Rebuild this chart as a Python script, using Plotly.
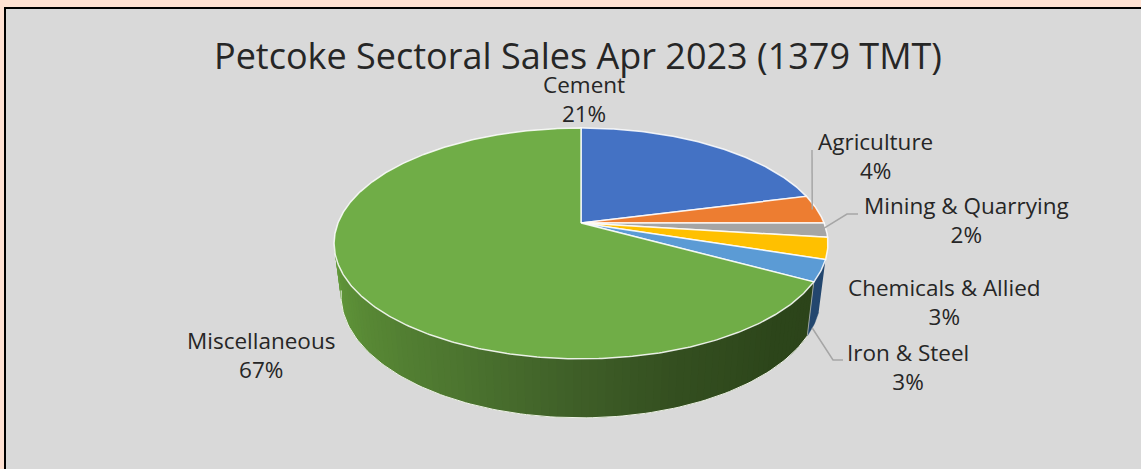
import numpy as np
import plotly.graph_objects as go

# Sector shares of petcoke sales, in percent
sectors = ["Cement", "Agriculture", "Mining & Quarrying", "Chemicals & Allied", "Iron & Steel", "Miscellaneous"]
shares = [21, 4, 2, 3, 3, 67]
top_colors = ["#4472C4", "#ED7D31", "#A5A5A5", "#FFC000", "#5B9BD5", "#70AD47"]
title_text = "Petcoke Sectoral Sales Apr 2023 (1379 TMT)"

# Label anchors: sector index, centre x, centre y of the two-line block
label_anchors = [(0, 584, 99), (1, 875, 156), (2, 966, 220), (3, 944, 302), (4, 908, 367), (5, 261, 355)]
# Leader elbows: sector index, end point, elbow point
leaders = [(1, (812, 150), None), (2, (858, 214), (847, 214)), (4, (843, 360), (833, 360))]

FONT = "Open Sans"
W, H = 1141, 469

# Perspective projection of the disc onto canvas pixels
APEX_X, APEX_Y = 581.0, 223.0
A, B, K = 243.0, 111.8, 0.177
BASE_X, BASE_Y, BASE_CY = 0.972, 1.0625, 273.5


def project(theta, r=1.0):
    u, v = r * np.sin(theta), r * np.cos(theta)
    d = 1 + K * v
    return APEX_X + A * u / d, APEX_Y - B * v / d


def project_base(theta):
    u, v = np.sin(theta), np.cos(theta)
    d = 1 + K * v
    return APEX_X + BASE_X * A * u / d, BASE_CY - BASE_Y * B * v / d


def hex_rgb(c):
    return np.array([int(c[i:i + 2], 16) for i in (1, 3, 5)], dtype=float)


fractions = np.cumsum([0] + shares) / sum(shares)
angles = 2 * np.pi * fractions

fig = go.Figure()


def add_poly(xs, ys, fill, line_color=None, line_width=0.0):
    fig.add_trace(go.Scatter(
        x=list(xs), y=list(ys), mode="lines", fill="toself", fillcolor=fill,
        line=dict(color=line_color or fill, width=line_width),
        hoverinfo="skip", showlegend=False,
    ))


# Outer wall of the Iron & Steel slice
wall_t = np.linspace(angles[4], angles[5], 12)
tx, ty = project(wall_t)
bx, by = project_base(wall_t)
add_poly(np.r_[tx, bx[::-1]], np.r_[ty, by[::-1]], "#23466E", "#23466E", 0.5)

# Outer wall of the Miscellaneous slice, shaded in overlapping strips
stops_deg = [118, 135, 160, 180, 205, 230, 255, 270]
stops_col = ["#2C441A", "#2D461B", "#344F20", "#3F5F28", "#4D7630", "#588835", "#62983B", "#669E3F"]
stops_rgb = np.array([hex_rgb(c) for c in stops_col])
strip_edges = np.radians(np.linspace(np.degrees(angles[5]), 262, 90))
for k in range(len(strip_edges) - 1):
    a0 = strip_edges[k]
    a1 = strip_edges[min(k + 2, len(strip_edges) - 1)]
    mid = np.degrees(a0)
    rgb = [np.interp(mid, stops_deg, stops_rgb[:, i]) for i in range(3)]
    col = "rgb(%d,%d,%d)" % tuple(rgb)
    seg = np.array([a0, a1])
    tx, ty = project(seg)
    bx, by = project_base(seg)
    add_poly(np.r_[tx, bx[::-1]], np.r_[ty, by[::-1]], col)

# Highlights along the lower rim and the front corner of the wall
rim_t = np.radians(np.linspace(np.degrees(angles[5]), 262, 120))
rx, ry = project_base(rim_t)
fig.add_trace(go.Scatter(x=rx, y=ry, mode="lines", line=dict(color="#EEF3E6", width=1),
                         hoverinfo="skip", showlegend=False))
cx0, cy0 = project(angles[5])
cx1, cy1 = project_base(angles[5])
fig.add_trace(go.Scatter(x=[cx0, cx1], y=[cy0, cy1], mode="lines", line=dict(color="#9AA3A0", width=1),
                         hoverinfo="skip", showlegend=False))

# Top face of the pie
for i, color in enumerate(top_colors):
    t = np.linspace(angles[i], angles[i + 1], max(6, int(shares[i] * 6)))
    ex, ey = project(t)
    add_poly(np.r_[APEX_X, ex, APEX_X], np.r_[APEX_Y, ey, APEX_Y], color, "rgba(255,255,255,0.85)", 1.5)

# Leader lines from slices to their labels
for idx, end, elbow in leaders:
    mid = (angles[idx] + angles[idx + 1]) / 2
    if idx == 4:
        sx, sy = project_base(mid + 0.03)
    else:
        sx, sy = project(mid, 0.98)
    pts = [(sx, sy)] + ([elbow] if elbow else []) + [end]
    fig.add_trace(go.Scatter(x=[p[0] for p in pts], y=[p[1] for p in pts], mode="lines",
                             line=dict(color="#A6A6A6", width=1.5), hoverinfo="skip", showlegend=False))

# Category and percentage labels
annotations = [
    dict(x=578, y=55, text=title_text, showarrow=False, xref="x", yref="y",
         font=dict(family=FONT, size=36, color="#262626"))
]
for idx, lx, ly in label_anchors:
    annotations.append(dict(
        x=lx, y=ly, text=f"{sectors[idx]}<br>{shares[idx]}%", showarrow=False, xref="x", yref="y",
        font=dict(family=FONT, size=22.5, color="#262626"), align="center",
    ))

fig.update_layout(
    width=W, height=H, margin=dict(l=0, r=0, t=0, b=0),
    paper_bgcolor="#FFE2D3", plot_bgcolor="#FFE2D3", showlegend=False,
    xaxis=dict(range=[0, W], visible=False, fixedrange=True),
    yaxis=dict(range=[H, 0], visible=False, fixedrange=True),
    annotations=annotations,
    # Chart panel with its black frame running past the right and lower edges
    shapes=[dict(type="rect", xref="x", yref="y", x0=5, y0=8, x1=W + 10, y1=H + 10,
                 fillcolor="#D9D9D9", line=dict(color="#000000", width=2), layer="below")],
)

fig.write_html("out.html")
